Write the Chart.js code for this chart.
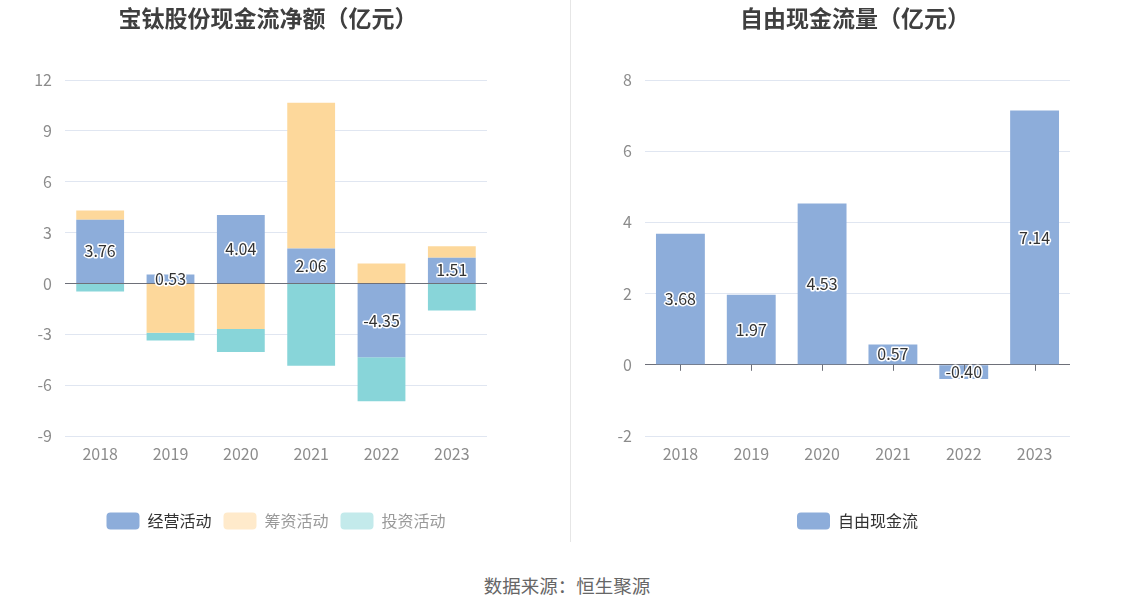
<!DOCTYPE html>
<html><head><meta charset="utf-8">
<script src="https://cdn.jsdelivr.net/npm/chart.js@4/dist/chart.umd.min.js"></script>
<style>
html,body{margin:0;padding:0;background:#fff;}
body{width:1134px;height:612px;position:relative;overflow:hidden;font-family:"Noto Sans CJK SC","Noto Sans",sans-serif;}
.box{position:absolute;top:0;width:567px;height:545px;}
.title{position:absolute;top:1px;font-size:23px;font-weight:bold;color:#3f3f3f;white-space:nowrap;transform:translateX(-50%);line-height:32px;}
#divider{position:absolute;left:570px;top:0;width:1px;height:542px;background:#e6e6e6;}
#src{position:absolute;left:567px;top:571px;transform:translateX(-50%);font-size:18.5px;color:#666;white-space:nowrap;line-height:28px;}
</style></head>
<body>
<div class="box" style="left:0"><canvas id="c1" width="567" height="545"></canvas></div>
<div class="box" style="left:567px"><canvas id="c2" width="567" height="545"></canvas></div>
<div id="divider"></div>
<div class="title" style="left:268px">宝钛股份现金流净额（亿元）</div>
<div class="title" style="left:855px">自由现金流量（亿元）</div>
<div id="src">数据来源：恒生聚源</div>
<script>
const years = ['2018','2019','2020','2021','2022','2023'];
const operating = [3.76, 0.53, 4.04, 2.06, -4.35, 1.51];
const financing = [0.54, -2.91, -2.69, 8.60, 1.17, 0.69];
const investing = [-0.48, -0.46, -1.35, -4.85, -2.60, -1.60];
const freeCashFlow = [3.68, 1.97, 4.53, 0.57, -0.40, 7.14];
const leftTicks = [-9, -6, -3, 0, 3, 6, 9, 12];
const rightTicks = [-2, 0, 2, 4, 6, 8];

const FONT = '"Noto Sans CJK SC","Noto Sans",sans-serif';

const labelPlugin = {
  id: 'barLabels',
  afterDatasetsDraw(chart) {
    const meta = chart.getDatasetMeta(0);
    const ds = chart.data.datasets[0];
    const ctx = chart.ctx;
    ctx.save();
    ctx.font = '16px ' + FONT;
    ctx.textAlign = 'center';
    ctx.textBaseline = 'middle';
    ctx.lineJoin = 'round';
    meta.data.forEach((bar, i) => {
      const v = ds.data[i];
      const y = (bar.y + bar.base) / 2;
      const t = v.toFixed(2);
      ctx.lineWidth = 3;
      ctx.strokeStyle = '#fff';
      ctx.strokeText(t, bar.x, y);
      ctx.fillStyle = '#333';
      ctx.fillText(t, bar.x, y);
    });
    ctx.restore();
  }
};

const tickMarkPlugin = {
  id: 'zeroTicks',
  afterDatasetsDraw(chart) {
    const xs = chart.scales.x, ys = chart.scales.y;
    const y0 = ys.getPixelForValue(0);
    const ctx = chart.ctx;
    ctx.save();
    ctx.strokeStyle = '#6E7079';
    ctx.lineWidth = 1;
    years.forEach((_, i) => {
      const x = Math.round(xs.getPixelForValue(i)) + 0.5;
      ctx.beginPath();
      ctx.moveTo(x, y0);
      ctx.lineTo(x, y0 + 6);
      ctx.stroke();
    });
    ctx.restore();
  }
};

function yScale(min, max, step, ticksArr) {
  return {
    min, max,
    afterBuildTicks(s) { s.ticks = ticksArr.map(v => ({value: v})); },
    afterFit(s) { s.width = 50; },
    border: {display: false},
    grid: {
      drawTicks: false,
      color: c => (c.tick && c.tick.value === 0) ? '#6E7079' : '#E0E6F1',
      lineWidth: 1
    },
    ticks: {stepSize: step, padding: 13, color: '#8c8c8c', font: {size: 16, family: FONT}}
  };
}
function xScale(stacked) {
  return {
    stacked,
    afterFit(s) { s.height = 64.5; },
    border: {display: false},
    grid: {display: false, drawTicks: false},
    ticks: {padding: 8, color: '#8c8c8c', font: {size: 16, family: FONT}}
  };
}
function legendOpts(colors, textColors) {
  return {
    position: 'bottom',
    fullSize: false,
    labels: {
      boxWidth: 33, boxHeight: 17, padding: 12,
      useBorderRadius: true, borderRadius: 4,
      font: {size: 16, family: FONT},
      generateLabels(chart) {
        return chart.data.datasets.map((d, i) => ({
          text: d.label, fillStyle: colors[i], strokeStyle: colors[i], lineWidth: 0,
          fontColor: textColors[i], datasetIndex: i, hidden: false, borderRadius: 4
        }));
      }
    }
  };
}

new Chart(document.getElementById('c1'), {
  type: 'bar',
  data: {
    labels: years,
    datasets: [
      {label: '经营活动', data: operating, backgroundColor: '#8DADDA'},
      {label: '筹资活动', data: financing, backgroundColor: '#FDD89B'},
      {label: '投资活动', data: investing, backgroundColor: '#88D5D9'}
    ]
  },
  options: {
    responsive: false, animation: false,
    datasets: {bar: {barPercentage: 0.68, categoryPercentage: 1}},
    layout: {padding: {top: 80, left: 15, right: 80, bottom: 5.5}},
    scales: {x: xScale(true), y: Object.assign(yScale(-9, 12, 3, leftTicks), {stacked: true})},
    plugins: {
      legend: legendOpts(['#8DADDA', '#FFEACB', '#C3EAEB'], ['#333', '#999', '#999']),
      tooltip: {enabled: false}
    }
  },
  plugins: [labelPlugin]
});

new Chart(document.getElementById('c2'), {
  type: 'bar',
  data: {
    labels: years,
    datasets: [
      {label: '自由现金流', data: freeCashFlow, backgroundColor: '#8DADDA'}
    ]
  },
  options: {
    responsive: false, animation: false,
    datasets: {bar: {barPercentage: 0.69, categoryPercentage: 1}},
    layout: {padding: {top: 80, left: 28, right: 64, bottom: 5.5}},
    scales: {x: xScale(false), y: yScale(-2, 8, 2, rightTicks)},
    plugins: {
      legend: legendOpts(['#8DADDA'], ['#333']),
      tooltip: {enabled: false}
    }
  },
  plugins: [labelPlugin, tickMarkPlugin]
});
</script>
</body></html>
